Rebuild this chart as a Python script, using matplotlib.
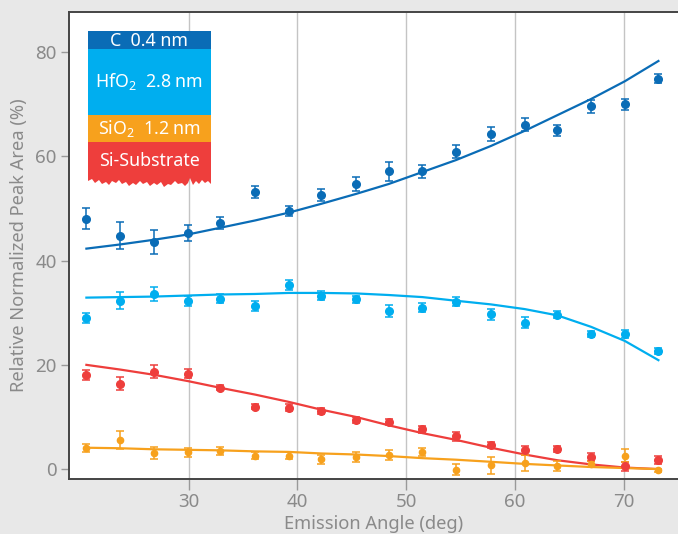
import matplotlib
matplotlib.use('Agg')
import matplotlib.pyplot as plt
from matplotlib.patches import Rectangle, Polygon

plt.rcParams['font.family'] = ['Noto Sans', 'DejaVu Sans']
plt.rcParams['mathtext.fontset'] = 'custom'
plt.rcParams['mathtext.rm'] = 'Noto Sans'

# ---------------------------------------------------------------------------
# Data
# ---------------------------------------------------------------------------
angle = [20.6, 23.7, 26.8, 29.9, 32.9, 36.1, 39.2, 42.2, 45.4,
         48.4, 51.5, 54.6, 57.8, 60.9, 63.9, 67.0, 70.1, 73.2]

c_val = [48.0, 44.8, 43.6, 45.3, 47.2, 53.2, 49.5, 52.6, 54.7,
         57.1, 57.1, 60.9, 64.3, 66.1, 65.0, 69.6, 70.0, 74.9]
c_err = [2.0, 2.6, 2.3, 1.5, 1.2, 1.2, 1.0, 1.1, 1.3,
         1.8, 1.2, 1.3, 1.4, 1.3, 1.0, 1.2, 1.1, 0.9]
c_fit = [42.3, 43.1, 44.0, 45.0, 46.3, 47.7, 49.2, 50.9, 52.8,
         54.7, 57.0, 59.3, 62.0, 64.9, 67.9, 71.0, 74.4, 78.3]

hf_val = [29.0, 32.3, 33.6, 32.3, 32.7, 31.3, 35.3, 33.3, 32.6,
          30.3, 31.0, 32.1, 29.7, 28.1, 29.6, 25.9, 25.9, 22.7]
hf_err = [1.0, 1.6, 1.4, 1.0, 0.8, 0.9, 0.9, 0.8, 0.7,
          1.2, 0.8, 0.9, 1.0, 1.0, 0.7, 0.6, 0.7, 0.6]
hf_fit = [32.9, 33.0, 33.1, 33.3, 33.5, 33.6, 33.8, 33.8, 33.7,
          33.4, 33.0, 32.3, 31.6, 30.7, 29.5, 27.3, 24.6, 20.9]

si_val = [18.0, 16.4, 18.7, 18.3, 15.6, 12.0, 11.8, 11.2, 9.4,
          9.1, 7.6, 6.3, 4.6, 3.6, 3.9, 2.3, 0.5, 1.7]
si_err = [1.0, 1.2, 1.2, 0.9, 0.5, 0.5, 0.6, 0.6, 0.6,
          0.6, 0.6, 0.9, 0.6, 0.9, 0.6, 0.7, 0.8, 0.8]
si_fit = [20.0, 19.1, 18.1, 16.9, 15.6, 14.3, 12.9, 11.4, 10.0,
          8.4, 6.9, 5.6, 4.1, 2.8, 1.7, 0.9, 0.3, 0.0]

ox_val = [4.0, 5.6, 3.1, 3.2, 3.5, 2.6, 2.6, 1.9, 2.3,
          2.7, 3.3, -0.1, 0.7, 1.2, 0.6, 1.0, 2.6, -0.2]
ox_err = [0.8, 1.8, 1.2, 0.9, 0.7, 0.7, 0.7, 0.9, 0.9,
          0.9, 0.8, 1.0, 1.6, 1.5, 1.0, 0.6, 1.3, 0.3]
ox_fit = [4.1, 4.0, 3.8, 3.7, 3.6, 3.4, 3.3, 3.0, 2.8,
          2.5, 2.1, 1.8, 1.4, 1.0, 0.7, 0.4, 0.2, 0.0]

x_ticks = [30, 40, 50, 60, 70]
y_ticks = [0, 20, 40, 60, 80]

DARK_BLUE = '#0a6cb6'
LIGHT_BLUE = '#00aeef'
ORANGE = '#f7a11d'
RED = '#ee3e3c'
GRAY_TXT = '#8a8a8a'
BG = '#e8e8e8'

# ---------------------------------------------------------------------------
# Figure
# ---------------------------------------------------------------------------
W, H = 678, 534
fig = plt.figure(figsize=(W / 100, H / 100), dpi=100, facecolor=BG)
ax = fig.add_axes([69 / W, 1 - 479 / H, (W - 69) / W, (479 - 12) / H])
ax.set_facecolor('white')

series = [
    (c_val, c_err, c_fit, DARK_BLUE, 5.5),
    (hf_val, hf_err, hf_fit, LIGHT_BLUE, 5.5),
    (si_val, si_err, si_fit, RED, 5.5),
    (ox_val, ox_err, ox_fit, ORANGE, 4.5),
]
for vals, errs, fit, col, ms in series:
    ax.plot(angle, fit, color=col, lw=1.6, zorder=3)
    ax.errorbar(angle, vals, yerr=errs, fmt='o', color=col, ms=ms,
                elinewidth=1.1, capsize=2.8, capthick=1.1, zorder=4)

ax.set_xlim(19.0, 75.0)
ax.set_ylim(-1.9, 87.7)
ax.set_xticks(x_ticks)
ax.set_yticks(y_ticks)
ax.grid(axis='x', color='#c4c4c4', lw=1.0, zorder=0)
ax.set_axisbelow(True)

for side in ['left', 'bottom', 'top']:
    ax.spines[side].set_color('#444444')
    ax.spines[side].set_linewidth(1.4)
ax.spines['right'].set_visible(False)

ax.tick_params(axis='both', colors='#999999', labelcolor=GRAY_TXT,
               labelsize=13.5, width=1.0)
ax.tick_params(axis='x', length=8, pad=2)
ax.tick_params(axis='y', length=6, pad=3)

ax.set_xlabel('Emission Angle (deg)', color=GRAY_TXT, fontsize=13.2, labelpad=3)
ax.set_ylabel('Relative Normalized Peak Area (%)', color=GRAY_TXT,
              fontsize=13.2, labelpad=5)

# ---------------------------------------------------------------------------
# Layer-stack inset (pixel coordinates)
# ---------------------------------------------------------------------------
x0, x1, y0, y1 = 88, 211, 31, 190
ins = fig.add_axes([x0 / W, 1 - y1 / H, (x1 - x0) / W, (y1 - y0) / H])
ins.set_xlim(x0, x1)
ins.set_ylim(y1, y0)
ins.axis('off')

ins.add_patch(Rectangle((x0, 31), x1 - x0, 18, color=DARK_BLUE, lw=0))
ins.add_patch(Rectangle((x0, 49), x1 - x0, 66, color=LIGHT_BLUE, lw=0))
ins.add_patch(Rectangle((x0, 115), x1 - x0, 27, color=ORANGE, lw=0))

jag_x = [88, 92, 95, 99, 102, 106, 109, 112, 116, 119, 122, 126, 129, 133,
         136, 140, 143, 147, 150, 154, 157, 161, 164, 168, 171, 175, 178,
         182, 185, 188, 190, 193, 196, 199, 202, 205, 208, 211]
jag_y = [181, 179, 183, 180, 184, 182, 185, 181, 183, 180, 184, 182, 186,
         183, 185, 181, 184, 182, 186, 183, 185, 182, 187, 184, 185, 181,
         184, 183, 186, 183, 178, 185, 181, 184, 180, 183, 181, 184]
poly = [(x0, 142), (x1, 142)] + list(zip(jag_x[::-1], jag_y[::-1]))
ins.add_patch(Polygon(poly, closed=True, color=RED, lw=0))

cx = (x0 + x1) / 2
ins.text(cx, 40.5, 'C  0.4 nm', color='white', fontsize=12.8,
         ha='center', va='center')
ins.text(cx, 82, r'HfO$_2$  2.8 nm', color='white', fontsize=12.8,
         ha='center', va='center')
ins.text(cx, 128.5, r'SiO$_2$  1.2 nm', color='white', fontsize=12.8,
         ha='center', va='center')
ins.text(cx, 161.5, 'Si-Substrate', color='white', fontsize=12.8,
         ha='center', va='center')

fig.savefig('out.png', dpi=100, facecolor=BG)
